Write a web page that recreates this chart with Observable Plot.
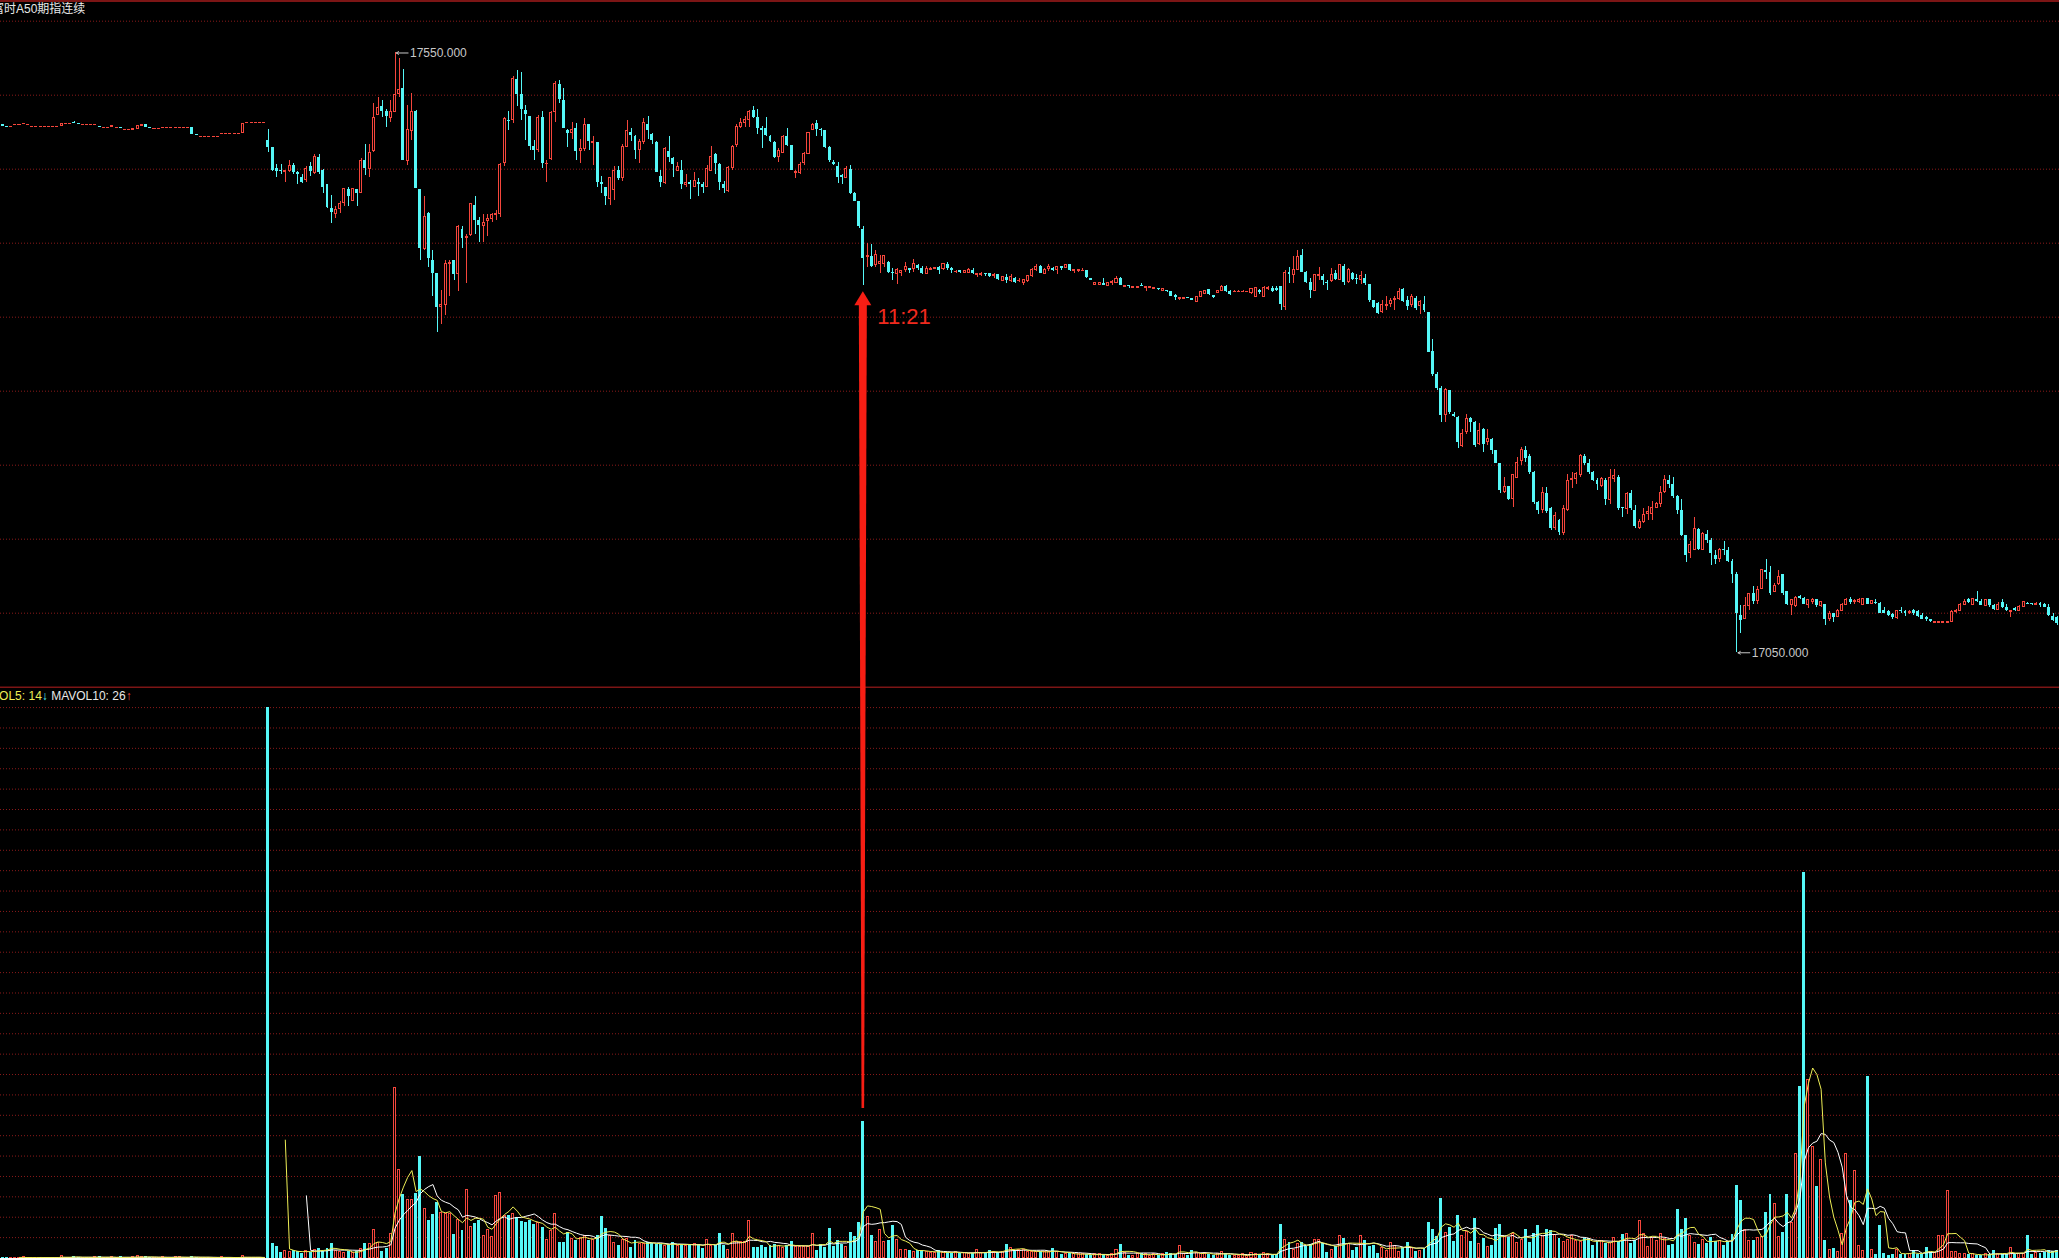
<!DOCTYPE html>
<html><head><meta charset="utf-8">
<script src="https://cdn.jsdelivr.net/npm/d3@7"></script>
<script src="https://cdn.jsdelivr.net/npm/@observablehq/plot@0.6"></script>
<style>
html,body{margin:0;padding:0;background:#000;}
#chart{position:relative;width:2059px;height:1258px;overflow:hidden;background:#000;}
#chart svg{position:absolute;left:0;top:0;}
.lbl{position:absolute;white-space:nowrap;font-family:"Liberation Sans",Arial,"Noto Sans CJK SC",sans-serif;}
</style></head><body><div id="chart"></div>
<script>
// ---------------- data: one-minute bars of 富时A50期指连续 ----------------
const title = "富时A50期指连续";
const sessionStartIndex = 63;          // first bar of the 09:00 session
const sessionOpenTime = "09:00";
const markedTime = "11:21";
const highLabel = 17550, lowLabel = 17050;
const maLabel = {ma5: 14, ma10: 26};

const open = [
17490,17489,17489,17490,17490,17491,17490,17489,17489,17489,
17489,17489,17489,17489,17489,17491,17491,17492,17491,17490,
17490,17490,17490,17489,17488,17488,17488,17488,17488,17486,
17486,17486,17487,17489,17490,17488,17487,17487,17488,17488,
17488,17488,17488,17488,17488,17488,17482,17480,17480,17480,
17480,17480,17483,17483,17483,17483,17483,17483,17492,17492,
17492,17492,17492,17477,17471,17454,17452,17451,17452,17456,
17450,17446,17444,17455,17450,17463,17452,17440,17420,17416,
17420,17425,17436,17427,17436,17433,17460,17453,17468,17498,
17505,17501,17496,17501,17516,17520,17460,17485,17501,17436,
17387,17416,17377,17366,17338,17340,17374,17377,17366,17403,
17396,17398,17423,17410,17406,17410,17412,17415,17416,17458,
17494,17494,17528,17515,17502,17497,17472,17469,17496,17458,
17462,17501,17524,17510,17485,17483,17487,17468,17470,17490,
17475,17475,17442,17438,17428,17436,17452,17446,17472,17484,
17480,17469,17476,17490,17482,17475,17447,17442,17468,17462,
17452,17452,17440,17442,17438,17442,17440,17438,17452,17465,
17457,17440,17435,17454,17473,17488,17492,17494,17502,17496,
17487,17487,17480,17475,17463,17467,17480,17473,17450,17450,
17458,17466,17486,17491,17486,17485,17471,17459,17455,17448,
17446,17453,17433,17426,17403,17380,17380,17373,17374,17374,
17375,17367,17366,17367,17369,17370,17370,17373,17370,17366,
17369,17370,17371,17370,17374,17370,17368,17369,17367,17367,
17369,17365,17365,17366,17366,17364,17365,17360,17363,17360,
17362,17360,17358,17360,17364,17369,17372,17366,17370,17370,
17369,17372,17371,17374,17368,17368,17369,17369,17362,17357,
17357,17358,17356,17358,17358,17362,17355,17356,17354,17354,
17356,17354,17354,17353,17354,17352,17352,17351,17348,17345,
17345,17346,17345,17342,17347,17349,17353,17348,17350,17352,
17355,17351,17351,17351,17351,17351,17350,17347,17352,17347,
17353,17354,17354,17355,17338,17367,17365,17369,17381,17367,
17359,17352,17364,17364,17359,17360,17366,17361,17372,17359,
17366,17362,17361,17362,17357,17344,17341,17334,17339,17341,
17344,17345,17353,17344,17340,17345,17339,17340,17334,17301,
17282,17270,17248,17269,17249,17246,17222,17234,17245,17242,
17224,17236,17226,17228,17219,17208,17184,17189,17178,17196,
17210,17219,17214,17200,17175,17169,17183,17170,17154,17160,
17150,17169,17194,17195,17198,17214,17208,17200,17194,17189,
17194,17177,17195,17196,17171,17170,17183,17169,17154,17159,
17166,17166,17171,17174,17184,17194,17190,17180,17169,17148,
17133,17136,17153,17136,17149,17144,17131,17128,17136,17135,
17126,17115,17081,17078,17089,17099,17093,17103,17119,17117,
17101,17107,17115,17101,17090,17089,17097,17095,17090,17092,
17094,17089,17090,17078,17083,17080,17085,17090,17094,17092,
17092,17090,17095,17091,17092,17091,17085,17084,17082,17079,
17085,17084,17083,17085,17084,17081,17079,17078,17075,17075,
17075,17075,17076,17084,17085,17090,17094,17090,17094,17093,
17089,17094,17089,17086,17092,17088,17084,17087,17085,17088,
17091,17091,17090,17091,17090,17088,17080,17079];

const close = [
17489,17488,17489,17490,17490,17491,17490,17489,17489,17489,
17489,17489,17489,17489,17491,17491,17491,17491,17490,17490,
17490,17490,17490,17488,17488,17488,17489,17488,17487,17486,
17486,17487,17489,17490,17488,17487,17487,17487,17488,17488,
17488,17488,17488,17488,17488,17482,17481,17480,17480,17480,
17480,17480,17483,17483,17483,17483,17483,17491,17492,17492,
17492,17492,17492,17471,17452,17451,17451,17452,17456,17450,
17449,17442,17453,17451,17463,17450,17438,17421,17417,17419,
17424,17437,17430,17437,17433,17460,17454,17467,17496,17504,
17501,17497,17501,17515,17519,17460,17486,17501,17437,17387,
17413,17379,17366,17338,17340,17374,17375,17365,17405,17395,
17397,17424,17410,17406,17408,17412,17415,17416,17457,17495,
17493,17528,17515,17503,17499,17472,17469,17496,17458,17458,
17500,17524,17511,17487,17483,17486,17468,17470,17490,17476,
17476,17442,17440,17430,17446,17452,17445,17472,17485,17481,
17469,17476,17492,17485,17477,17450,17442,17470,17463,17457,
17455,17440,17442,17440,17443,17440,17438,17453,17463,17458,
17442,17437,17454,17472,17488,17492,17494,17501,17496,17487,
17485,17481,17476,17463,17468,17480,17473,17452,17451,17457,
17466,17483,17490,17486,17485,17471,17460,17457,17446,17446,
17453,17433,17426,17405,17379,17381,17372,17382,17376,17381,
17367,17366,17369,17368,17372,17369,17374,17370,17366,17370,
17370,17371,17369,17374,17370,17369,17368,17367,17368,17369,
17366,17366,17366,17365,17364,17365,17361,17363,17360,17363,
17359,17360,17361,17364,17369,17372,17366,17369,17372,17369,
17372,17370,17373,17369,17369,17369,17369,17363,17360,17358,
17358,17356,17358,17359,17362,17356,17356,17355,17355,17355,
17355,17355,17355,17354,17353,17353,17351,17347,17346,17346,
17346,17345,17344,17347,17351,17352,17349,17346,17352,17355,
17351,17349,17351,17351,17351,17351,17353,17354,17350,17354,
17354,17351,17352,17340,17367,17365,17369,17380,17367,17359,
17352,17365,17365,17360,17358,17365,17361,17373,17359,17369,
17361,17361,17364,17358,17344,17338,17333,17340,17340,17343,
17345,17351,17343,17339,17347,17337,17342,17335,17300,17282,
17270,17248,17269,17250,17247,17225,17232,17245,17242,17223,
17235,17224,17228,17219,17208,17185,17188,17178,17198,17208,
17219,17212,17200,17175,17169,17183,17168,17154,17164,17150,
17170,17193,17195,17199,17214,17208,17200,17194,17190,17195,
17178,17196,17197,17170,17170,17182,17170,17155,17159,17165,
17167,17171,17174,17183,17194,17190,17180,17169,17148,17131,
17140,17153,17136,17149,17144,17133,17128,17136,17135,17126,
17115,17083,17077,17089,17099,17093,17102,17119,17117,17099,
17106,17113,17099,17090,17094,17096,17095,17090,17094,17094,
17089,17092,17078,17082,17079,17085,17090,17094,17092,17093,
17094,17095,17090,17093,17091,17083,17083,17081,17079,17085,
17084,17083,17084,17083,17080,17078,17078,17076,17076,17076,
17076,17076,17084,17085,17090,17092,17092,17095,17093,17089,
17094,17089,17086,17090,17088,17085,17085,17085,17088,17092,
17090,17090,17091,17089,17088,17081,17077,17074];

const high = [
17490,17489,17489,17490,17490,17491,17490,17489,17489,17489,
17489,17489,17489,17489,17491,17491,17491,17493,17491,17490,
17490,17490,17490,17489,17488,17488,17489,17488,17488,17486,
17486,17487,17489,17490,17490,17488,17487,17487,17488,17488,
17488,17488,17488,17488,17488,17488,17482,17480,17480,17480,
17480,17480,17483,17483,17483,17483,17483,17491,17492,17492,
17492,17492,17492,17486,17471,17457,17457,17452,17460,17458,
17451,17449,17455,17459,17465,17465,17453,17440,17431,17422,
17426,17437,17438,17437,17436,17462,17474,17474,17508,17513,
17510,17503,17510,17550,17545,17536,17506,17516,17502,17436,
17430,17417,17385,17366,17352,17377,17377,17377,17406,17405,
17399,17424,17430,17413,17415,17415,17416,17419,17458,17496,
17501,17530,17535,17534,17506,17497,17477,17498,17501,17460,
17501,17526,17527,17520,17486,17492,17491,17478,17495,17490,
17480,17475,17447,17438,17446,17455,17455,17474,17494,17487,
17481,17478,17495,17497,17483,17476,17452,17471,17480,17463,
17459,17460,17449,17444,17450,17445,17442,17456,17472,17466,
17458,17443,17455,17473,17490,17495,17497,17502,17505,17503,
17489,17496,17481,17476,17470,17481,17487,17473,17452,17459,
17467,17484,17491,17494,17487,17485,17472,17460,17459,17449,
17455,17456,17434,17426,17405,17391,17390,17385,17381,17381,
17376,17370,17370,17369,17375,17370,17378,17374,17372,17372,
17371,17371,17372,17374,17375,17371,17369,17369,17368,17370,
17370,17366,17367,17366,17366,17366,17365,17363,17365,17365,
17363,17362,17361,17364,17370,17374,17373,17370,17374,17371,
17372,17372,17373,17374,17369,17369,17370,17369,17362,17358,
17359,17362,17359,17360,17364,17363,17356,17356,17355,17355,
17358,17355,17355,17354,17354,17353,17352,17351,17349,17346,
17346,17346,17345,17347,17351,17352,17353,17348,17352,17356,
17356,17352,17352,17352,17352,17351,17354,17354,17353,17355,
17355,17355,17355,17355,17369,17371,17380,17385,17386,17368,
17362,17365,17371,17365,17360,17370,17369,17374,17374,17370,
17367,17365,17368,17365,17357,17344,17342,17344,17347,17345,
17347,17354,17354,17347,17349,17347,17344,17347,17334,17311,
17284,17272,17270,17269,17250,17247,17236,17249,17246,17243,
17241,17237,17236,17229,17219,17208,17196,17189,17199,17213,
17221,17222,17215,17201,17176,17188,17188,17171,17167,17161,
17173,17199,17200,17200,17215,17215,17211,17201,17195,17196,
17195,17203,17203,17198,17171,17184,17185,17173,17161,17170,
17172,17176,17175,17189,17198,17198,17196,17181,17178,17148,
17143,17163,17154,17150,17152,17145,17135,17137,17143,17138,
17128,17117,17089,17096,17099,17105,17105,17119,17128,17122,
17108,17119,17115,17101,17094,17097,17098,17096,17094,17095,
17094,17093,17090,17084,17083,17086,17091,17095,17096,17094,
17095,17095,17095,17093,17094,17092,17088,17085,17083,17085,
17088,17085,17085,17086,17085,17083,17080,17078,17076,17076,
17076,17076,17085,17086,17091,17094,17095,17095,17101,17094,
17094,17094,17090,17092,17094,17090,17085,17088,17089,17092,
17092,17091,17092,17092,17091,17090,17083,17080];

const low = [
17489,17488,17489,17490,17490,17491,17490,17489,17489,17489,
17489,17489,17489,17489,17489,17491,17491,17491,17490,17490,
17490,17490,17490,17488,17488,17488,17488,17488,17487,17486,
17486,17486,17487,17489,17488,17487,17487,17487,17488,17488,
17488,17488,17488,17488,17488,17482,17481,17480,17480,17480,
17480,17480,17483,17483,17483,17483,17483,17483,17492,17492,
17492,17492,17492,17467,17451,17446,17449,17442,17450,17449,
17440,17441,17442,17447,17449,17449,17433,17420,17408,17412,
17416,17422,17422,17427,17422,17433,17448,17446,17467,17498,
17496,17488,17492,17501,17513,17460,17456,17477,17437,17377,
17385,17371,17347,17317,17324,17331,17347,17360,17351,17387,
17358,17397,17399,17392,17392,17397,17409,17410,17413,17455,
17485,17491,17505,17494,17477,17469,17460,17467,17454,17442,
17460,17492,17508,17487,17471,17478,17460,17458,17468,17469,
17456,17438,17433,17423,17423,17427,17444,17443,17471,17476,
17461,17458,17474,17478,17474,17450,17438,17440,17459,17446,
17451,17436,17438,17428,17438,17430,17433,17438,17452,17449,
17435,17433,17434,17452,17471,17487,17488,17488,17495,17482,
17470,17480,17475,17462,17459,17466,17472,17452,17445,17449,
17456,17466,17485,17480,17480,17470,17459,17456,17441,17440,
17445,17432,17426,17404,17356,17371,17371,17371,17366,17371,
17366,17360,17357,17364,17367,17366,17367,17369,17365,17366,
17369,17370,17365,17369,17369,17366,17366,17366,17366,17366,
17365,17363,17364,17364,17363,17362,17360,17360,17358,17359,
17358,17359,17356,17359,17363,17368,17366,17366,17368,17368,
17365,17369,17370,17368,17366,17367,17368,17362,17360,17356,
17356,17356,17355,17356,17358,17356,17355,17354,17354,17354,
17355,17351,17354,17353,17352,17352,17350,17347,17344,17344,
17345,17345,17344,17342,17346,17349,17348,17345,17350,17351,
17350,17348,17350,17351,17351,17351,17349,17346,17349,17346,
17352,17350,17351,17335,17335,17358,17358,17369,17367,17358,
17345,17351,17360,17356,17352,17359,17360,17360,17356,17358,
17360,17357,17357,17356,17342,17337,17332,17333,17335,17338,
17335,17344,17342,17335,17338,17335,17332,17334,17300,17280,
17269,17242,17242,17249,17246,17220,17221,17232,17234,17221,
17223,17217,17223,17215,17208,17183,17183,17177,17171,17196,
17206,17209,17199,17174,17165,17166,17166,17152,17152,17148,
17148,17168,17187,17190,17196,17206,17199,17193,17185,17188,
17173,17174,17192,17169,17163,17165,17169,17154,17153,17158,
17160,17160,17170,17171,17183,17187,17179,17165,17147,17125,
17129,17135,17135,17135,17141,17123,17124,17125,17131,17125,
17108,17050,17066,17078,17085,17090,17090,17103,17111,17098,
17100,17106,17098,17089,17081,17088,17094,17090,17087,17090,
17088,17088,17073,17076,17075,17079,17084,17089,17090,17090,
17091,17090,17090,17090,17090,17083,17083,17080,17078,17078,
17083,17080,17082,17081,17079,17078,17076,17075,17074,17075,
17074,17074,17076,17083,17085,17090,17091,17090,17092,17089,
17089,17088,17085,17085,17087,17084,17079,17084,17085,17088,
17090,17089,17089,17088,17088,17080,17076,17073];

const volume = [
2,2,1,1,1,2,1,1,1,1,
1,1,1,1,5,1,1,4,2,1,
1,1,3,3,1,1,2,1,3,1,
1,2,4,2,3,2,1,1,2,1,
1,3,3,1,1,4,2,1,1,1,
1,1,2,1,1,1,1,5,1,1,
1,1,1,1376,37,29,15,17,15,19,
17,12,17,15,20,25,17,23,37,17,
15,12,17,12,17,23,37,34,69,37,
17,23,59,425,220,159,145,144,162,254,
123,95,109,140,112,109,109,59,95,69,
169,77,87,95,56,69,52,156,162,106,
106,109,102,92,90,94,84,87,77,44,
67,109,40,40,65,48,45,50,54,45,
44,56,104,73,54,37,31,44,48,27,
45,35,34,40,37,35,34,29,34,40,
31,34,29,34,35,34,25,44,31,31,
62,31,19,60,40,40,40,92,27,27,
31,27,31,35,31,25,31,42,27,27,
27,27,59,19,35,27,73,29,44,35,
27,64,54,90,341,102,56,40,70,40,
45,81,45,20,20,19,15,20,19,15,
12,12,19,12,15,12,15,12,12,10,
12,19,12,15,19,15,15,15,34,25,
20,19,19,15,15,15,17,15,15,23,
15,9,9,12,9,9,9,9,6,9,
9,9,6,9,21,35,12,6,6,9,
12,9,6,9,6,9,15,12,9,31,
9,6,19,12,9,12,9,6,9,15,
12,6,6,6,9,6,12,9,10,12,
9,6,9,84,46,40,20,34,40,29,
34,44,45,37,15,19,29,56,48,34,
19,27,56,45,29,31,12,25,17,38,
31,15,27,38,25,17,17,23,89,71,
54,150,63,76,41,106,56,65,41,100,
34,50,27,31,74,84,52,52,60,37,
45,71,40,62,81,54,71,69,57,50,
39,44,54,42,40,48,48,31,42,42,
37,37,50,42,59,59,37,44,92,59,
27,50,42,59,48,31,34,121,71,98,
56,37,34,45,37,52,42,42,31,42,
60,181,144,70,42,44,50,52,115,160,
134,52,65,160,87,260,429,965,444,277,
179,244,45,19,25,15,60,259,145,217,
31,17,454,19,9,81,12,6,10,19,
9,9,9,20,10,10,27,15,12,56,
54,167,15,15,9,10,10,9,6,6,
9,9,19,10,9,9,25,9,10,10,
56,9,12,12,15,19,17,19];

// ---------------- layout & style ----------------
const W = 2059, H = 1258;
const UP = "#f5463c", DOWN = "#55f7f7", GRID = "#8a1a1a", FRAME = "#7c1515";
const MA5C = "#eeee55", MA10C = "#ffffff";
const priceDomain = [17021.3, 17576.5], priceRange = [686.7, 20.7];
const volDomain = [0, 1427], volRange = [1257.5, 686.7];

const N = Math.min(open.length, close.length, high.length, low.length, volume.length);
const bars = d3.range(N).map(i => ({
  i, o: open[i], c: close[i],
  h: Math.max(high[i], open[i], close[i]),
  l: Math.min(low[i], open[i], close[i]),
  v: volume[i],
  session: i < sessionStartIndex ? 0 : 1
}));
const upBars = bars.filter(d => d.c > d.o);
const downBars = bars.filter(d => d.c < d.o);
const flatBars = bars.filter(d => d.c === d.o);
const volUp = bars.filter(d => d.c >= d.o);
const volDown = bars.filter(d => d.c < d.o);

// volume moving averages (restart with each session)
function movingAvg(k) {
  return bars.map((b, j) => {
    const s = j - k + 1;
    if (s < 0 || bars[s].session !== b.session) return null;
    return d3.mean(bars.slice(s, j + 1), d => d.v);
  });
}
const ma5 = movingAvg(5), ma10 = movingAvg(10);
const maRows = bars.map((b, j) => ({i: b.i, session: b.session, ma5: ma5[j], ma10: ma10[j]}));

const xDomain = [-0.5, N - 0.5];
const pxPerBar = W / N;
const yS = d3.scaleLinear(priceDomain, priceRange);
const vS = d3.scaleLinear(volDomain, volRange);

// grid levels: equal divisions of each panel
const priceGrid = d3.range(9).map(k => priceDomain[1] - k * (priceDomain[1] - priceDomain[0]) / 9);
const volGrid = d3.range(1, 28).map(k => volDomain[1] - k * (volDomain[1] - volDomain[0]) / 28);

// marked minute
const toMin = t => +t.slice(0, 2) * 60 + +t.slice(3);
const ai = sessionStartIndex + toMin(markedTime) - toMin(sessionOpenTime);
const ab = bars[ai];
const tipPx = yS(ab.l) + 6, headBasePx = tipPx + 14, bottomPx = vS(ab.v) - 13;
const b = px => px / pxPerBar;
const arrowHead = [
  {y: yS.invert(tipPx), x1: ai, x2: ai},
  {y: yS.invert(headBasePx), x1: ai - b(8.5), x2: ai + b(8.5)}
];
const arrowShaft = [
  {y: yS.invert(headBasePx - 1), x1: ai - b(4), x2: ai + b(4)},
  {y: yS.invert(bottomPx), x1: ai - b(1.3), x2: ai + b(1.3)}
];

const hiBar = bars.find(d => d.h === highLabel);
const loBar = bars.find(d => d.l === lowLabel);
const extremes = [
  {i: hiBar.i, p: highLabel, t: highLabel.toFixed(3)},
  {i: loBar.i, p: lowLabel, t: lowLabel.toFixed(3)}
];

const font = "'Liberation Sans', Arial, sans-serif";

const volPlot = Plot.plot({
  width: W, height: H, margin: 0,
  style: "background: transparent; overflow: visible;",
  x: {domain: xDomain, range: [0, W], axis: null},
  y: {domain: volDomain, range: volRange, axis: null},
  marks: [
    Plot.ruleY(volGrid, {stroke: GRID, strokeDasharray: "1,2", strokeWidth: 1}),
    Plot.ruleY([volDomain[1]], {stroke: FRAME, strokeWidth: 1.5}),
    Plot.rect(volDown, {x1: d => d.i - 0.35, x2: d => d.i + 0.35, y1: 0, y2: "v", fill: DOWN, shapeRendering: "crispEdges"}),
    Plot.rect(volUp, {x1: d => d.i - 0.24, x2: d => d.i + 0.24, y1: 0, y2: "v", fill: "black", stroke: UP, strokeWidth: 1, shapeRendering: "crispEdges"}),
    Plot.line(maRows, {x: "i", y: "ma10", z: "session", stroke: MA10C, strokeWidth: 1}),
    Plot.line(maRows, {x: "i", y: "ma5", z: "session", stroke: MA5C, strokeWidth: 1})
  ]
});

const pricePlot = Plot.plot({
  width: W, height: H, margin: 0,
  style: "background: transparent; overflow: visible;",
  x: {domain: xDomain, range: [0, W], axis: null},
  y: {domain: priceDomain, range: priceRange, axis: null},
  marks: [
    Plot.ruleY(priceGrid, {stroke: GRID, strokeDasharray: "1,2", strokeWidth: 1}),
    Plot.ruleX(bars.filter(d => d.h > d.l), {x: "i", y1: "l", y2: "h", stroke: d => d.c >= d.o ? UP : DOWN, strokeWidth: 1, shapeRendering: "crispEdges"}),
    Plot.rect(downBars, {x1: d => d.i - 0.35, x2: d => d.i + 0.35, y1: "o", y2: "c", fill: DOWN, shapeRendering: "crispEdges"}),
    Plot.rect(upBars, {x1: d => d.i - 0.24, x2: d => d.i + 0.24, y1: "o", y2: "c", fill: "black", stroke: UP, strokeWidth: 1, shapeRendering: "crispEdges"}),
    Plot.ruleY(flatBars, {y: "c", x1: d => d.i - 0.36, x2: d => d.i + 0.36, stroke: UP, strokeWidth: 1, shapeRendering: "crispEdges"}),
    Plot.arrow(extremes, {x1: d => d.i + 3.1, x2: d => d.i + 0.3, y1: "p", y2: "p", stroke: "#c8c8c8", strokeWidth: 1, headLength: 4}),
    Plot.text(extremes, {x: "i", y: "p", text: "t", dx: 15, textAnchor: "start", fill: "#c8c8c8", fontSize: 12, fontFamily: font}),
    Plot.areaX(arrowShaft, {y: "y", x1: "x1", x2: "x2", fill: "#f61e14"}),
    Plot.areaX(arrowHead, {y: "y", x1: "x1", x2: "x2", fill: "#f61e14"}),
    Plot.text([ab], {x: "i", y: "l", text: () => markedTime, dx: 14, dy: 31, textAnchor: "start", fill: "#f02a1e", fontSize: 22, fontFamily: font})
  ]
});

const root = document.getElementById("chart");
root.appendChild(volPlot);
root.appendChild(pricePlot);

const topLine = document.createElement("div");
topLine.style.cssText = `position:absolute;left:0;top:0;width:${W}px;height:2px;background:${FRAME};`;
root.appendChild(topLine);

const t = document.createElement("div");
t.className = "lbl";
t.style.cssText = "left:-8px;top:1px;font-size:12px;line-height:16px;color:#e8e8e8;font-family:'Liberation Sans',Arial,'Noto Sans CJK SC',sans-serif;";
t.textContent = title;
root.appendChild(t);

const m = document.createElement("div");
m.className = "lbl";
m.style.cssText = "left:-26px;top:689px;font-size:12px;line-height:14px;";
m.innerHTML = `<span style="color:${MA5C}">MAVOL5: ${maLabel.ma5}</span><span style="color:${DOWN}">↓</span><span style="color:#e8e8e8"> MAVOL10: ${maLabel.ma10}</span><span style="color:${UP}">↑</span>`;
root.appendChild(m);
</script></body></html>
